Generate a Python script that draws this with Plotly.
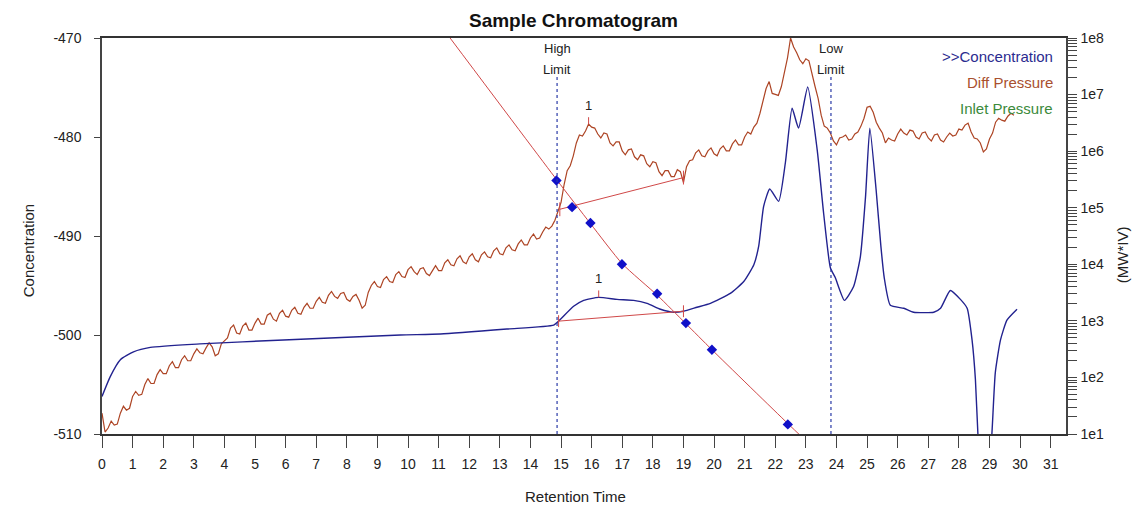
import plotly.graph_objects as go

# ---------------- data ----------------
conc_time = [0.0, 0.27, 0.6, 1.03, 1.58, 3.2, 5.93, 9.75, 11.06, 13.23, 14.76, 14.92, 15.41, 15.74,
             16.23, 16.83, 17.37, 17.81, 18.25, 18.68, 19.0, 19.44, 19.88, 20.53, 20.97, 21.3, 21.46,
             21.62, 21.82, 22.11, 22.33, 22.55, 22.76, 23.06, 23.37, 23.58, 23.8, 23.96, 24.26, 24.56,
             24.78, 24.95, 25.09, 25.3, 25.45, 25.56, 25.76, 26.2, 26.52, 27.18, 27.4, 27.72, 28.05,
             28.27, 28.43, 28.54, 28.62, 28.85, 29.08, 29.19, 29.36, 29.57, 29.9]
conc_value = [-506.2, -504.2, -502.5, -501.7, -501.25, -500.9, -500.5, -500.0, -499.9, -499.4, -499.0,
              -498.6, -497.1, -496.5, -496.2, -496.4, -496.5, -496.8, -497.4, -497.7, -497.6, -497.2,
              -496.8, -495.8, -494.6, -492.9, -491.0, -487.0, -485.25, -486.5, -482.6, -477.1, -479.1,
              -474.95, -481.3, -487.7, -493.2, -494.2, -496.5, -495.1, -492.1, -486.0, -479.1, -485.5,
              -491.0, -494.2, -497.0, -497.3, -497.7, -497.7, -497.3, -495.5, -496.4, -497.3, -500.5,
              -504.5, -509.9, -520.0, -509.9, -503.8, -500.5, -498.5, -497.4]

# Diff Pressure detector, sampled every 0.1 min from 0.0 to 29.8 min (one row per minute)
diff_step = 0.1
diff_value = [
    -507.9, -509.8, -509.4, -508.7, -509.1, -509.0, -507.9, -507.2, -507.6, -507.4,
    -506.2, -505.7, -506.1, -506.0, -505.0, -504.4, -504.9, -504.9, -504.0, -503.5,
    -503.9, -503.9, -503.1, -502.7, -503.3, -503.3, -502.5, -502.1, -502.6, -502.6,
    -501.9, -501.4, -501.8, -501.9, -501.3, -500.8, -501.2, -502.1, -501.9, -500.9,
    -500.6, -500.3, -499.3, -499.0, -499.8, -499.9, -499.1, -498.8, -499.5, -499.5,
    -498.8, -498.3, -498.9, -498.9, -498.0, -497.8, -498.4, -498.6, -497.8, -497.5,
    -498.1, -498.2, -497.5, -497.2, -497.8, -497.9, -497.2, -496.8, -497.3, -497.3,
    -496.6, -496.2, -496.7, -496.8, -496.0, -495.6, -496.1, -496.3, -495.8, -495.7,
    -496.4, -496.6, -496.1, -495.9, -496.5, -497.3, -497.0, -495.7, -495.0, -494.6,
    -495.1, -495.2, -494.4, -494.1, -494.6, -494.7, -493.9, -493.6, -494.1, -494.2,
    -493.4, -493.1, -493.6, -493.9, -493.3, -493.2, -493.8, -494.0, -493.5, -493.0,
    -493.5, -493.5, -492.7, -492.4, -492.9, -493.0, -492.3, -492.0, -492.6, -492.8,
    -492.1, -491.8, -492.4, -492.6, -491.9, -491.6, -492.1, -492.2, -491.5, -491.2,
    -491.8, -491.9, -491.2, -490.9, -491.4, -491.5, -490.8, -490.4, -490.9, -490.9,
    -490.2, -489.8, -490.3, -490.2, -489.6, -489.1, -489.3, -489.0, -488.4, -487.6,
    -486.6, -484.8, -483.4, -482.9, -481.9, -480.6, -479.8, -479.9, -479.4, -478.7,
    -479.0, -479.1, -479.7, -480.1, -479.6, -479.7, -480.6, -480.9, -480.5, -480.5,
    -481.4, -481.8, -481.3, -481.2, -482.0, -482.3, -481.8, -481.9, -482.7, -483.0,
    -482.5, -482.6, -483.5, -483.9, -483.4, -483.4, -484.0, -484.0, -483.3, -483.5,
    -484.6, -483.0, -482.4, -482.3, -481.6, -481.3, -481.9, -482.0, -481.4, -481.1,
    -481.7, -481.9, -481.2, -480.9, -481.4, -481.4, -480.7, -480.3, -480.8, -480.8,
    -480.0, -479.5, -479.7, -479.0, -478.6, -477.6, -476.3, -475.1, -474.4, -475.6,
    -475.7, -475.8, -474.9, -473.6, -472.0, -470.0, -470.9, -471.5, -472.2, -472.6,
    -472.1, -472.3, -473.7, -474.9, -476.1, -477.8, -478.9, -479.1, -479.6, -480.4,
    -480.8, -480.1, -480.0, -479.8, -480.3, -480.2, -479.7, -479.5, -478.9, -478.1,
    -477.0, -476.9, -477.5, -478.5, -479.1, -479.6, -480.6, -480.1, -480.3, -480.4,
    -479.7, -479.2, -479.6, -479.8, -479.3, -479.4, -480.0, -480.2, -479.6, -479.5,
    -480.1, -480.4, -479.8, -479.7, -480.3, -480.5, -480.0, -479.6, -479.9, -479.8,
    -479.2, -479.3, -478.8, -478.6, -479.5, -480.1, -480.2, -480.6, -481.5, -481.2,
    -480.2, -479.6, -478.5, -478.1, -478.3, -478.4, -477.9, -477.6, -477.8,
]
diff_time = [round(i * diff_step, 1) for i in range(len(diff_value))]

# calibration standards (log scale, MW*IV)
cal_time = [14.85, 15.36, 15.96, 16.99, 18.14, 19.08, 19.93, 22.41]
cal_mw = [10**5.48, 10**5.01, 10**4.73, 10**4.0, 10**3.48, 10**2.96, 10**2.49, 10**1.17]
fit_time = [11.0, 14.85, 15.96, 17.0, 18.15, 19.08, 19.93, 22.4, 23.0]
fit_mw = [10**8.27, 10**5.50, 10**4.72, 10**4.01, 10**3.45, 10**2.95, 10**2.49, 10**1.19, 10**0.88]

# integration results: [start, end] of peak baselines
conc_base_t = [14.92, 19.0]
conc_base_v = [-498.6, -497.6]
diff_base_t = [14.96, 19.0]
diff_base_v = [-487.3, -484.1]
peak_apex_t = [16.23, 15.9]
peak_apex_v = [-496.2, -478.7]
peak_label = ["1", "1"]

limit_time = [14.87, 23.82]
limit_label = [["High", "Limit"], ["Low", "Limit"]]

x_ticks = list(range(0, 32))
y_ticks = [-510, -500, -490, -480, -470]
y_text = ["-510", "-500", "-490", "-480", "-470"]
y2_ticks = [1e1, 1e2, 1e3, 1e4, 1e5, 1e6, 1e7, 1e8]
y2_text = ["1e1", "1e2", "1e3", "1e4", "1e5", "1e6", "1e7", "1e8"]
legend_items = [">>Concentration", "Diff Pressure", "Inlet Pressure"]
legend_colors = ["#2b2b8f", "#a9502f", "#3b8a3b"]

BLUE = "#22228f"
BROWN = "#ad4424"
RED = "#d04848"
FONT = "Liberation Sans, Arial, sans-serif"

fig = go.Figure()

fig.add_trace(go.Scatter(x=diff_time, y=diff_value, mode="lines",
                         line=dict(color=BROWN, width=1.2), yaxis="y"))
fig.add_trace(go.Scatter(x=conc_time, y=conc_value, mode="lines",
                         line=dict(color=BLUE, width=1.4, shape="spline", smoothing=0.5), yaxis="y"))
fig.add_trace(go.Scatter(x=fit_time, y=fit_mw, mode="lines",
                         line=dict(color=RED, width=1, shape="spline", smoothing=0.6), yaxis="y2"))
fig.add_trace(go.Scatter(x=cal_time, y=cal_mw, mode="markers",
                         marker=dict(symbol="diamond", size=8, color="#1010c8"), yaxis="y2"))

# baselines with end ticks
bx, by = [], []
for tt, vv, h in ((conc_base_t, conc_base_v, 0.6), (diff_base_t, diff_base_v, 0.7)):
    bx += [tt[0], tt[1], None]
    by += [vv[0], vv[1], None]
    for t, v in zip(tt, vv):
        bx += [t, t, None]
        by += [v - h, v + h, None]
# apex markers
for t, v in zip(peak_apex_t, peak_apex_v):
    bx += [t, t, None]
    by += [v, v + 0.7, None]
fig.add_trace(go.Scatter(x=bx, y=by, mode="lines", line=dict(color=RED, width=1), yaxis="y"))

for t, v, lab in zip(peak_apex_t, peak_apex_v, peak_label):
    fig.add_annotation(x=t, y=v + 0.9, yref="y", text=lab, showarrow=False, yanchor="bottom",
                       font=dict(size=13, color="#222", family=FONT))

for t, labs in zip(limit_time, limit_label):
    fig.add_shape(type="line", x0=t, x1=t, xref="x", yref="paper", y0=0, y1=0.903,
                  line=dict(color="#2a3aa8", width=1.2, dash="3px,3px"))
    fig.add_annotation(x=t, y=0.973, xref="x", yref="paper", text=labs[0], showarrow=False,
                       yanchor="middle", font=dict(size=13, color="#222", family=FONT))
    fig.add_annotation(x=t, y=0.920, xref="x", yref="paper", text=labs[1], showarrow=False,
                       yanchor="middle", font=dict(size=13, color="#222", family=FONT))

for i, (txt, col) in enumerate(zip(legend_items, legend_colors)):
    fig.add_annotation(x=0.9886, y=0.9528 - i * 0.0657, xref="paper", yref="paper", text=txt,
                       showarrow=False, xanchor="right", yanchor="middle",
                       font=dict(size=15, color=col, family=FONT))

# axis titles
fig.add_annotation(x=0.4907, y=-0.1576, xref="paper", yref="paper", text="Retention Time",
                   showarrow=False, yanchor="middle", font=dict(size=15, color="#222", family=FONT))
fig.add_annotation(x=-0.0871, y=0.4629, xref="paper", yref="paper", text="Concentration",
                   textangle=-90, showarrow=False, font=dict(size=15, color="#222", family=FONT))
fig.add_annotation(x=1.0695, y=0.4528, xref="paper", yref="paper", text="(MW*IV)",
                   textangle=-90, showarrow=False, font=dict(size=15, color="#222", family=FONT))

minor_vals = [m * 10**e for e in range(1, 8) for m in range(2, 10)]

fig.update_layout(
    width=1147, height=507,
    margin=dict(l=102, r=81, t=38, b=73),
    paper_bgcolor="white", plot_bgcolor="white",
    showlegend=False,
    font=dict(family=FONT, color="#222"),
    title=dict(text="<b>Sample Chromatogram</b>", x=0.5, xref="container", xanchor="center",
               y=1 - 20 / 507, yref="container", yanchor="middle",
               font=dict(size=19, color="#111", family=FONT)),
    xaxis=dict(range=[0, 31.5], tickmode="array", tickvals=x_ticks, ticks="outside", ticklen=12,
               tickcolor="#444", showline=True, linecolor="#333", linewidth=1.5, mirror=True,
               showgrid=False, zeroline=False, tickfont=dict(size=14, color="#222"),
               ticklabelstandoff=4),
    yaxis=dict(range=[-510, -470], tickmode="array", tickvals=y_ticks, ticktext=y_text,
               ticks="outside", ticklen=6,
               tickcolor="#444", showline=True, linecolor="#444", linewidth=1.5, showgrid=False,
               zeroline=False, tickfont=dict(size=14, color="#222"), ticklabelstandoff=10),
    yaxis2=dict(type="log", range=[1, 8], overlaying="y", side="right", tickmode="array",
                tickvals=y2_ticks, ticktext=y2_text, ticks="outside", ticklen=9, tickcolor="#444",
                showline=True, linecolor="#444", linewidth=1.5, showgrid=False, zeroline=False,
                tickfont=dict(size=14, color="#222"), ticklabelstandoff=1,
                minor=dict(tickmode="array", tickvals=minor_vals, ticks="outside", ticklen=9,
                           tickcolor="#444", showgrid=False)),
)

fig.write_html("out.html")
